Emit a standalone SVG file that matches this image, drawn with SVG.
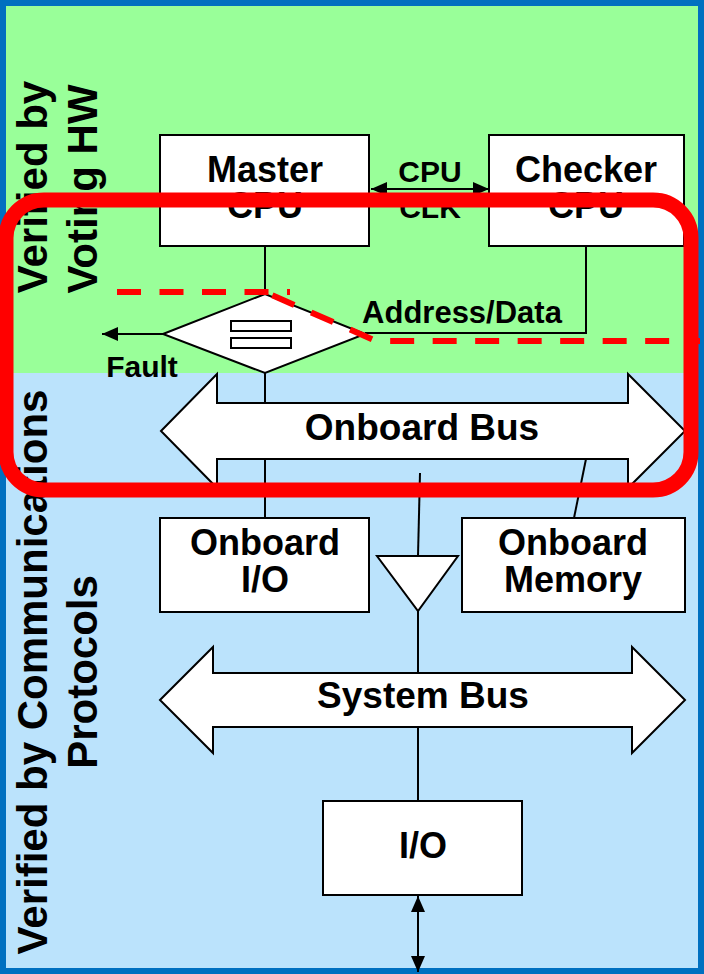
<svg xmlns="http://www.w3.org/2000/svg" width="704" height="974" viewBox="0 0 704 974">
<defs>
<style>
.box{fill:#fff;stroke:#000;stroke-width:2}
.ln{fill:none;stroke:#000;stroke-width:2}
.lbl{font-family:"Liberation Sans",Arial,sans-serif;font-weight:bold;fill:#000;text-anchor:middle}
.big{font-size:36px}
.mid{font-size:30px}
.side{font-size:42px}
.dash{fill:none;stroke:#f00;stroke-width:6;stroke-dasharray:24 18.5}
</style>
<marker id="ah" viewBox="0 0 16 14" refX="16" refY="7" markerWidth="16" markerHeight="14" markerUnits="userSpaceOnUse" orient="auto-start-reverse">
<path d="M0,0 L16,7 L0,14 Z" fill="#000"/>
</marker>
</defs>
<rect x="0" y="0" width="704" height="373" fill="#99ff99"/>
<rect x="0" y="373" width="704" height="601" fill="#bbe3fc"/>
<rect x="3" y="3" width="698" height="968" fill="none" stroke="#0070c0" stroke-width="6"/>

<g id="side-labels">
<text class="lbl side" transform="translate(47,187) rotate(-90)">Verified by</text>
<text class="lbl side" transform="translate(97,189) rotate(-90)">Voting HW</text>
<text class="lbl side" transform="translate(47,672) rotate(-90)">Verified by Communications</text>
<text class="lbl side" transform="translate(97,672) rotate(-90)">Protocols</text>
</g>

<g id="connectors">
<line class="ln" x1="265" y1="246" x2="265" y2="294"/>
<polyline class="ln" points="586,246 586,333 365,333"/>
<line class="ln" x1="163" y1="334" x2="102" y2="334" marker-end="url(#ah)"/>
<line class="ln" x1="371" y1="189" x2="489" y2="189" marker-start="url(#ah)" marker-end="url(#ah)"/>
<line class="ln" x1="265" y1="373" x2="265" y2="403"/>
<line class="ln" x1="265" y1="459" x2="265" y2="518"/>
<line class="ln" x1="420" y1="473" x2="418" y2="556"/>
<line class="ln" x1="586" y1="459" x2="574" y2="518"/>
<line class="ln" x1="418" y1="611" x2="418" y2="673"/>
<line class="ln" x1="418" y1="727" x2="418" y2="801"/>
<line class="ln" x1="418" y1="896" x2="418" y2="972" marker-start="url(#ah)" marker-end="url(#ah)"/>
</g>

<g id="master-cpu">
<rect class="box" x="160" y="135" width="209" height="111"/>
<text class="lbl big" x="265" y="182">Master</text>
<text class="lbl big" x="265" y="218">CPU</text>
</g>
<g id="checker-cpu">
<rect class="box" x="489" y="135" width="195" height="111"/>
<text class="lbl big" x="586" y="182">Checker</text>
<text class="lbl big" x="586" y="218">CPU</text>
</g>
<g id="cpu-clk">
<text class="lbl mid" x="430" y="182">CPU</text>
<text class="lbl mid" x="430" y="218">CLK</text>
</g>
<g id="address-data">
<text class="lbl mid" x="462" y="323" style="font-size:31px">Address/Data</text>
</g>
<g id="fault">
<text class="lbl mid" x="142" y="377">Fault</text>
</g>
<g id="comparator">
<polygon class="box" points="163,334 265,294 365,334 265,373"/>
<rect class="box" x="231" y="321" width="60" height="10"/>
<rect class="box" x="231" y="338" width="60" height="10"/>
</g>
<g id="onboard-bus">
<polygon class="box" points="161,431 217,374 217,403 628,403 628,374 685,431 628,488 628,459 217,459 217,488"/>
<text class="lbl" x="422" y="440" style="font-size:37px">Onboard Bus</text>
</g>
<g id="onboard-io">
<rect class="box" x="160" y="518" width="209" height="94"/>
<text class="lbl big" x="265" y="555">Onboard</text>
<text class="lbl big" x="265" y="592">I/O</text>
</g>
<g id="buffer">
<polygon class="box" points="377,556 458,556 418,611"/>
</g>
<g id="onboard-memory">
<rect class="box" x="462" y="518" width="223" height="94"/>
<text class="lbl big" x="573" y="555">Onboard</text>
<text class="lbl big" x="573" y="592">Memory</text>
</g>
<g id="system-bus">
<polygon class="box" points="160,700 213,647 213,673 632,673 632,647 685,700 632,753 632,727 213,727 213,753"/>
<text class="lbl" x="423" y="708" style="font-size:37px">System Bus</text>
</g>
<g id="io">
<rect class="box" x="323" y="801" width="199" height="94"/>
<text class="lbl big" x="423" y="858">I/O</text>
</g>

<g id="red-overlay">
<line class="dash" x1="117" y1="292" x2="290" y2="292"/>
<polyline class="dash" points="265,292 376,341 700,341" style="stroke-dashoffset:-8"/>
<rect x="6" y="200" width="685" height="290" rx="38" fill="none" stroke="#f00" stroke-width="15"/>
</g>
</svg>
